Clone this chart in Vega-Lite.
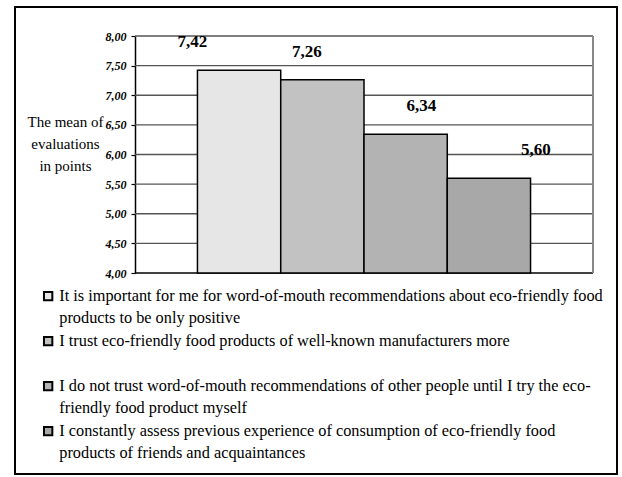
{
  "$schema": "https://vega.github.io/schema/vega-lite/v6.json",
  "width": 602,
  "height": 467,
  "autosize": {"type": "none"},
  "padding": {"left": 15, "top": 7, "right": 5, "bottom": 3},
  "background": "white",
  "config": {
    "view": {"stroke": "black", "strokeWidth": 2},
    "font": "Liberation Serif, Times New Roman, serif",
    "style": {"guide-label": {"lineHeight": 22, "font": "Liberation Serif, Times New Roman, serif"}, "guide-title": {"font": "Liberation Serif, Times New Roman, serif"}}
  },
  "datasets": {
    "bars": [
      {"item": " It is important for me for word-of-mouth recommendations about eco-friendly food|products to be only positive", "value": 7.42, "label": "7,42"},
      {"item": "I trust eco-friendly food products of well-known manufacturers more| ", "value": 7.26, "label": "7,26"},
      {"item": "I do not trust word-of-mouth recommendations of other people until I try the eco-|friendly food product myself", "value": 6.34, "label": "6,34"},
      {"item": " I constantly assess previous experience of consumption of eco-friendly food|products of friends and acquaintances", "value": 5.6, "label": "5,60"}
    ],
    "grid": [{"v": 4}, {"v": 4.5}, {"v": 5}, {"v": 5.5}, {"v": 6}, {"v": 6.5}, {"v": 7}, {"v": 7.5}, {"v": 8}]
  },
  "layer": [
    {
      "data": {"name": "grid"},
      "mark": {"type": "rule", "strokeWidth": 1.4},
      "encoding": {
        "y": {
          "field": "v", "type": "quantitative",
          "scale": {"domain": [4, 8], "range": [266, 29], "nice": false, "zero": false},
          "axis": {
            "offset": -120,
            "values": [4, 4.5, 5, 5.5, 6, 6.5, 7, 7.5, 8],
            "labelExpr": "replace(format(datum.value, '.2f'), '.', ',')",
            "labelFont": "Liberation Serif, Times New Roman, serif", "labelFontSize": 12, "labelFontStyle": "italic", "labelFontWeight": "bold",
            "labelColor": "black", "labelFlush": false, "labelOverlap": false, "labelPadding": 5,
            "tickSize": 4, "tickColor": "black", "tickWidth": 1.2,
            "domainColor": "black", "domainWidth": 1.5, "grid": false,
            "title": ["The mean of", "evaluations", "in points"],
            "titleAngle": 0, "titleAlign": "center", "titleBaseline": "middle",
            "titleX": -70, "titleY": 114,
            "titleFont": "Liberation Serif, Times New Roman, serif", "titleFontSize": 15, "titleFontWeight": "normal",
            "titleColor": "black", "titleLineHeight": 22
          }
        },
        "x": {"datum": 0, "type": "quantitative", "scale": {"domain": [0, 1], "range": [120, 578]}, "axis": null},
        "x2": {"datum": 1},
        "color": {"condition": {"test": "datum.v == 4", "value": "black"}, "value": "#555555"}
      }
    },
    {
      "data": {"values": [{}]},
      "mark": {"type": "rule", "strokeWidth": 2, "color": "#888888"},
      "encoding": {
        "x": {"datum": 1, "type": "quantitative", "scale": {"domain": [0, 1], "range": [120, 578]}, "axis": null},
        "y": {"datum": 4, "type": "quantitative"},
        "y2": {"datum": 8}
      }
    },
    {
      "data": {"name": "bars"},
      "mark": {"type": "bar", "stroke": "black", "strokeWidth": 1.5},
      "encoding": {
        "x": {"field": "item", "type": "nominal", "sort": null, "scale": {"range": [120, 578], "paddingInner": 0, "paddingOuter": 0.75}, "axis": null},
        "y": {"field": "value", "type": "quantitative"},
        "y2": {"datum": 4},
        "color": {
          "field": "item", "type": "nominal", "sort": null,
          "scale": {"range": ["#e6e6e6", "#c2c2c2", "#b3b3b3", "#a8a8a8"]},
          "legend": {
            "orient": "none", "legendX": 25, "legendY": 281, "title": null, "padding": 0,
            "symbolType": "square", "symbolSize": 70, "symbolStrokeColor": "black", "symbolStrokeWidth": 2,
            "labelFont": "Liberation Serif, Times New Roman, serif", "labelFontSize": 16.3, "labelColor": "black",
            "labelLimit": 700, "labelOffset": 3, "rowPadding": 5,
            "labelExpr": "split(datum.label, '|')"
          }
        }
      }
    },
    {
      "data": {"name": "bars"},
      "mark": {"type": "text", "dy": -28, "fontSize": 17, "fontWeight": "bold", "font": "Liberation Serif, Times New Roman, serif", "color": "black"},
      "encoding": {
        "x": {"field": "item", "type": "nominal", "sort": null, "scale": {"range": [120, 578], "paddingInner": 0, "paddingOuter": 0.75}, "axis": null},
        "y": {"field": "value", "type": "quantitative"},
        "text": {"field": "label"}
      }
    }
  ],
  "resolve": {"scale": {"x": "independent"}}
}
